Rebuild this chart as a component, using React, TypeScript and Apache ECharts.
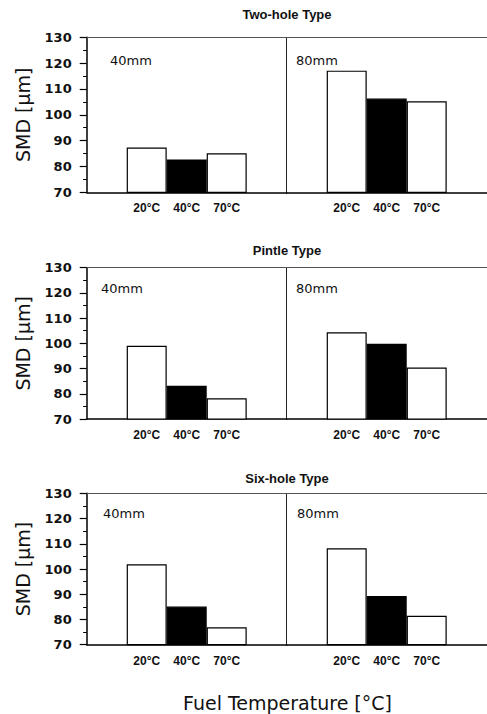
import React, { useEffect, useRef } from 'react';
import * as echarts from 'echarts';

// ---- data ----
const nozzleTypes = ['Two-hole Type', 'Pintle Type', 'Six-hole Type'];
const distances = ['40mm', '80mm'];
const temperatures = ['20°C', '40°C', '70°C'];
const yMin = 70;
const yMax = 130;
const yStep = 10;
const yAxisTitle = 'SMD [μm]';
const xAxisTitle = 'Fuel Temperature [°C]';

const twoHole40 = [87.3, 82.7, 85.1];
const twoHole80 = [117.1, 106.3, 105.2];
const pintle40 = [99.0, 83.2, 78.2];
const pintle80 = [104.4, 99.8, 90.4];
const sixHole40 = [101.9, 85.1, 76.9];
const sixHole80 = [108.2, 89.3, 81.5];

const valuesByPanel = [
  [twoHole40, twoHole80],
  [pintle40, pintle80],
  [sixHole40, sixHole80],
];
const barColors = ['#ffffff', '#000000', '#ffffff'];

// ---- layout ----
const axisX = 86.7;
const halfW = 200;
const layout = [
  { top: 37.3, height: 155, titleY: 14, labelY: 60, labelX: [110, 296] },
  { top: 267.7, height: 151.3, titleY: 250, labelY: 288, labelX: [101, 296] },
  { top: 493.3, height: 151.4, titleY: 478, labelY: 513, labelX: [103, 297] },
];

function buildOption() {
  const grid: any[] = [];
  const xAxis: any[] = [];
  const yAxis: any[] = [];
  const series: any[] = [];
  const graphic: any[] = [];
  const cats = ['', ...temperatures, ' '];

  layout.forEach((L, p) => {
    graphic.push({
      type: 'text',
      x: 287,
      y: L.titleY,
      style: {
        text: nozzleTypes[p],
        align: 'center',
        verticalAlign: 'middle',
        fontFamily: 'Liberation Sans',
        fontWeight: 'bold',
        fontSize: 13,
        fill: '#111',
      },
    });
    for (let h = 0; h < 2; h++) {
      const g = grid.length;
      grid.push({ left: axisX + h * halfW, top: L.top, width: halfW, height: L.height });
      const bottomIdx = xAxis.length;
      xAxis.push({
        type: 'category',
        gridIndex: g,
        data: cats,
        position: 'bottom',
        axisLine: { show: true, lineStyle: { color: '#000', width: 1.5 } },
        axisTick: { show: false },
        axisLabel: {
          interval: 0,
          margin: 10,
          fontFamily: 'Liberation Sans',
          fontWeight: 'bold',
          fontSize: 12,
          color: '#111',
        },
        splitLine: { show: false },
      });
      xAxis.push({
        type: 'category',
        gridIndex: g,
        data: cats,
        position: 'top',
        axisLine: { show: true, lineStyle: { color: '#555', width: 1 } },
        axisTick: { show: false },
        axisLabel: { show: false },
        splitLine: { show: false },
      });
      const yIdx = yAxis.length;
      if (h === 0) {
        yAxis.push({
          type: 'value',
          gridIndex: g,
          min: yMin,
          max: yMax,
          interval: yStep,
          name: yAxisTitle,
          nameLocation: 'middle',
          nameGap: 54,
          nameRotate: 90,
          nameTextStyle: { fontFamily: 'DejaVu Sans', fontSize: 19, color: '#111' },
          axisLine: { show: true, lineStyle: { color: '#000', width: 1.5 } },
          axisTick: { show: true, length: 7, lineStyle: { color: '#000', width: 1.2 } },
          minorTick: { show: true, splitNumber: 2, length: 3.5, lineStyle: { color: '#000', width: 1 } },
          axisLabel: {
            margin: 15,
            fontFamily: 'DejaVu Sans',
            fontWeight: 'bold',
            fontSize: 13,
            color: '#111',
          },
          splitLine: { show: false },
        });
      } else {
        yAxis.push({
          type: 'value',
          gridIndex: g,
          min: yMin,
          max: yMax,
          interval: yStep,
          axisLine: { show: true, lineStyle: { color: '#222', width: 1 } },
          axisTick: { show: false },
          axisLabel: { show: false },
          splitLine: { show: false },
        });
      }
      const vals = valuesByPanel[p][h];
      series.push({
        type: 'bar',
        xAxisIndex: bottomIdx,
        yAxisIndex: yIdx,
        barCategoryGap: '0%',
        silent: true,
        itemStyle: { borderColor: '#000', borderWidth: 1.2 },
        data: ['-', ...vals.map((v, i) => ({ value: v, itemStyle: { color: barColors[i] } })), '-'],
      });
      graphic.push({
        type: 'text',
        x: L.labelX[h],
        y: L.labelY,
        style: {
          text: distances[h],
          align: 'left',
          verticalAlign: 'middle',
          fontFamily: 'DejaVu Sans',
          fontSize: 13,
          fill: '#111',
        },
      });
    }
  });

  graphic.push({
    type: 'text',
    x: 287.5,
    y: 703,
    style: {
      text: xAxisTitle,
      align: 'center',
      verticalAlign: 'middle',
      fontFamily: 'DejaVu Sans',
      fontSize: 19,
      fill: '#111',
    },
  });

  return {
    animation: false,
    backgroundColor: '#ffffff',
    grid,
    xAxis,
    yAxis,
    series,
    graphic,
  };
}

export default function App() {
  const ref = useRef<HTMLDivElement>(null);
  useEffect(() => {
    if (!ref.current) return;
    const chart = echarts.init(ref.current, undefined, { renderer: 'svg' });
    chart.setOption(buildOption() as any);
    return () => chart.dispose();
  }, []);
  return (
    <div
      ref={ref}
      style={{ position: 'fixed', left: 0, top: 0, width: 487, height: 714, background: '#fff' }}
    />
  );
}
